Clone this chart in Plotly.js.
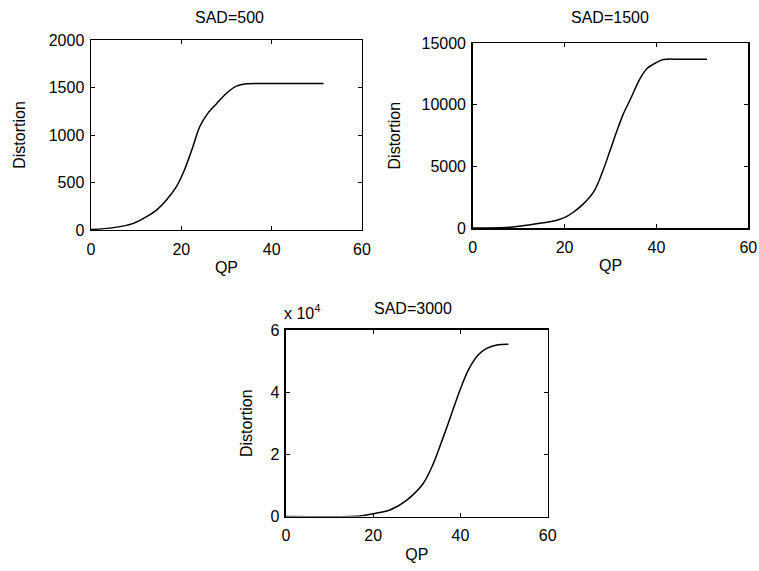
<!DOCTYPE html>
<html><head><meta charset="utf-8">
<script src="https://cdn.plot.ly/plotly-3.0.1.min.js"></script>
<style>html,body{margin:0;padding:0;background:#fff}</style>
</head><body>
<div id="chart" style="width:759px;height:571px"></div>
<script>
// SAD=500
const qp500 = [0, 5, 9.4, 12.3, 14.5, 16.7, 18.7, 20.4, 22.3, 24.1, 25.9, 27.8, 30, 32.2, 34.4, 40, 45, 51.5];
const dist500 = [5, 25, 70, 140, 210, 316, 440, 600, 840, 1090, 1230, 1330, 1440, 1515, 1540, 1542, 1542, 1542];
// SAD=1500
const qp1500 = [0, 8, 12.5, 16.5, 18.5, 20.3, 21.9, 24.1, 26.3, 28.1, 29.9, 31.5, 32.8, 34.2, 36.4, 37.9, 39.7, 41.5, 45, 51];
const dist1500 = [0, 60, 260, 480, 650, 900, 1280, 1960, 2910, 4400, 6290, 8000, 9270, 10350, 12110, 12930, 13380, 13680, 13700, 13700];
// SAD=3000
const qp3000 = [0, 17, 20, 23.8, 27.7, 31.5, 33.8, 36.1, 38.0, 39.9, 41.8, 44.1, 46.0, 48.3, 51];
const dist3000 = [0, 200, 900, 2090, 5300, 10700, 17100, 25700, 33200, 40700, 47100, 52000, 54100, 55200, 55400];

const xTicks = [0, 20, 40, 60];
const yTicks500 = [0, 500, 1000, 1500, 2000];
const yTicks1500 = [0, 5000, 10000, 15000];
const yTickText1500 = ['0', '5000', '10000', '15000'];
const yTicks3000 = [0, 20000, 40000, 60000];
const yTickText3000 = ['0', '2', '4', '6'];
const titles = ['SAD=500', 'SAD=1500', 'SAD=3000'];

const FONT = {family: 'Liberation Sans, Arial, sans-serif', size: 16, color: '#000'};
const line = {color: '#000', width: 1.5, shape: 'spline', smoothing: 0.9};

const traces = [
  {x: qp500, y: dist500, xaxis: 'x', yaxis: 'y', mode: 'lines', line: line},
  {x: qp1500, y: dist1500, xaxis: 'x2', yaxis: 'y2', mode: 'lines', line: line},
  {x: qp3000, y: dist3000, xaxis: 'x3', yaxis: 'y3', mode: 'lines', line: line}
];

function xa(domain, anchor) {
  return {domain: domain, anchor: anchor, range: [0, 60], tickvals: xTicks,
    ticks: 'inside', ticklen: 4, tickcolor: '#000', mirror: 'allticks', showline: true,
    linecolor: '#000', linewidth: 1.5, showgrid: false, zeroline: false,
    ticklabelstandoff: 4,
    tickfont: FONT, title: {text: 'QP', font: FONT, standoff: 5}};
}
function ya(domain, anchor, range, tv, tt, so) {
  const o = {domain: domain, anchor: anchor, range: range, tickvals: tv,
    ticks: 'inside', ticklen: 4, tickcolor: '#000', mirror: 'allticks', showline: true,
    linecolor: '#000', linewidth: 1.5, showgrid: false, zeroline: false,
    ticklabelstandoff: 2,
    tickfont: FONT, title: {text: 'Distortion', font: FONT, standoff: so}};
  if (tt) o.ticktext = tt;
  return o;
}

const layout = {
  width: 759, height: 571,
  margin: {l: 0, r: 0, t: 0, b: 0},
  paper_bgcolor: '#fff', plot_bgcolor: '#fff',
  showlegend: false,
  font: FONT,
  xaxis: xa([0.1199, 0.4769], 'y'),
  yaxis: ya([0.5972, 0.9299], 'x', [0, 2000], yTicks500, null, 19),
  xaxis2: xa([0.6228, 0.9859], 'y2'),
  yaxis2: ya([0.6007, 0.9242], 'x2', [0, 15000], yTicks1500, yTickText1500, 17),
  xaxis3: xa([0.3768, 0.7216], 'y3'),
  yaxis3: ya([0.0954, 0.4221], 'x3', [0, 60000], yTicks3000, yTickText3000, 14),
  annotations: [
    {text: titles[0], xref: 'paper', yref: 'paper', x: 229/759, y: 1 - 18/571, xanchor: 'center', yanchor: 'middle', showarrow: false, font: FONT},
    {text: titles[1], xref: 'paper', yref: 'paper', x: 610/759, y: 1 - 18/571, xanchor: 'center', yanchor: 'middle', showarrow: false, font: FONT},
    {text: titles[2], xref: 'paper', yref: 'paper', x: 413/759, y: 1 - 308/571, xanchor: 'center', yanchor: 'middle', showarrow: false, font: FONT},
    {text: 'x 10<sup>4</sup>', xref: 'paper', yref: 'paper', x: 302/759, y: 1 - 312/571, xanchor: 'center', yanchor: 'middle', showarrow: false, font: FONT}
  ]
};

Plotly.newPlot('chart', traces, layout, {staticPlot: true, displayModeBar: false});
</script>
</body></html>
